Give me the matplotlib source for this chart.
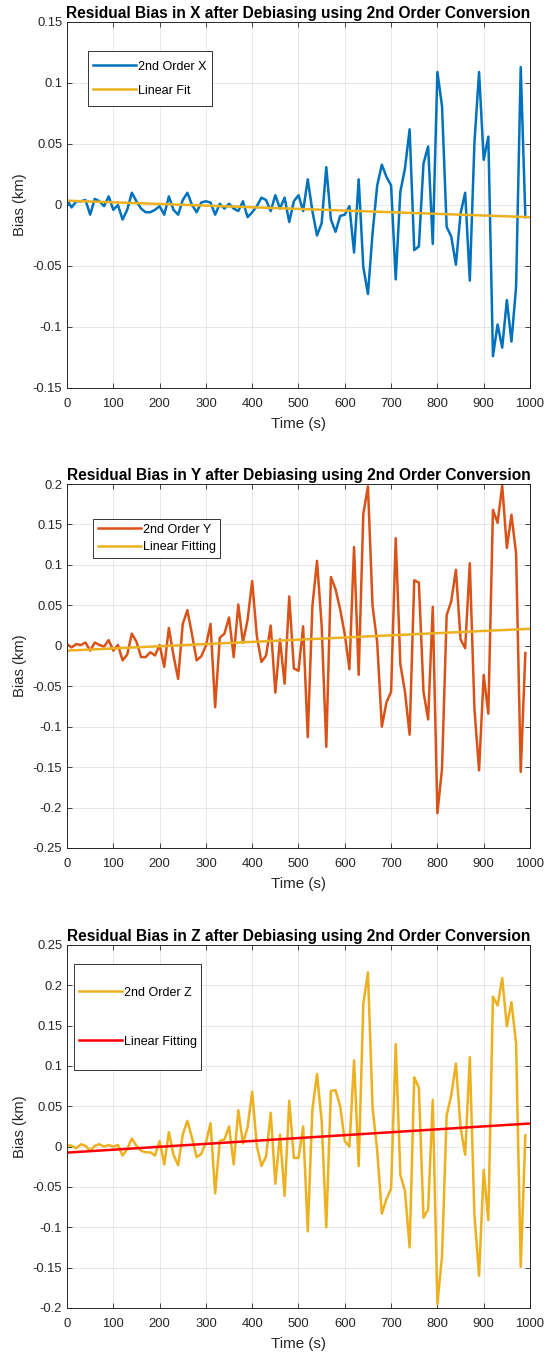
import matplotlib
matplotlib.use("Agg")
import matplotlib.pyplot as plt
from matplotlib.patches import Rectangle
from matplotlib.ticker import FuncFormatter, MultipleLocator

# time axis, one sample every 10 s
t = list(range(0, 1000, 10))

bias_x = [0.004, -0.002, 0.003, 0.003, 0.004, -0.008, 0.005, 0.003, -0.001, 0.007,
          -0.004, 0.000, -0.012, -0.004, 0.010, 0.003, -0.003, -0.006, -0.006, -0.004,
          -0.001, -0.008, 0.007, -0.004, -0.008, 0.004, 0.010, 0.000, -0.006, 0.002,
          0.003, 0.002, -0.008, 0.001, -0.003, 0.001, -0.003, -0.005, 0.003, -0.010,
          -0.006, -0.001, 0.006, 0.004, -0.005, 0.008, -0.003, 0.006, -0.014, 0.003,
          0.008, -0.005, 0.021, -0.005, -0.025, -0.015, 0.031, -0.012, -0.022, -0.009,
          -0.008, -0.001, -0.039, 0.021, -0.051, -0.073, -0.023, 0.016, 0.033, 0.023,
          0.016, -0.061, 0.011, 0.030, 0.062, -0.037, -0.034, 0.034, 0.048, -0.032,
          0.109, 0.081, -0.018, -0.026, -0.049, -0.007, 0.010, -0.062, 0.051, 0.109,
          0.037, 0.056, -0.124, -0.098, -0.117, -0.078, -0.112, -0.067, 0.113, -0.010]

bias_y = [0.002, -0.002, 0.002, 0.001, 0.004, -0.006, 0.004, 0.001, -0.001, 0.007,
          -0.006, 0.001, -0.018, -0.011, 0.015, 0.005, -0.014, -0.014, -0.008, -0.012,
          0.001, -0.026, 0.022, -0.012, -0.041, 0.027, 0.044, 0.014, -0.018, -0.013,
          0.000, 0.027, -0.076, 0.010, 0.015, 0.035, -0.014, 0.051, 0.004, 0.032,
          0.080, 0.012, -0.020, -0.012, 0.025, -0.058, 0.008, -0.047, 0.061, -0.028,
          -0.031, 0.024, -0.113, 0.049, 0.105, 0.025, -0.125, 0.085, 0.070, 0.045,
          0.014, -0.029, 0.122, -0.036, 0.163, 0.197, 0.049, 0.004, -0.100, -0.070,
          -0.057, 0.133, -0.023, -0.057, -0.110, 0.081, 0.078, -0.057, -0.091, 0.048,
          -0.207, -0.152, 0.038, 0.055, 0.094, 0.008, -0.003, 0.102, -0.078, -0.154,
          -0.036, -0.084, 0.168, 0.152, 0.198, 0.121, 0.162, 0.114, -0.156, -0.009]

bias_z = [0.002, 0.001, -0.002, 0.003, 0.001, -0.005, 0.001, 0.003, 0.000, 0.002,
          0.000, 0.002, -0.011, -0.003, 0.010, 0.001, -0.005, -0.007, -0.007, -0.011,
          0.007, -0.022, 0.018, -0.010, -0.023, 0.015, 0.032, 0.011, -0.013, -0.009,
          0.005, 0.029, -0.058, 0.007, 0.009, 0.025, -0.022, 0.045, 0.004, 0.024,
          0.068, 0.001, -0.024, -0.012, 0.042, -0.046, 0.015, -0.061, 0.057, -0.014,
          -0.014, 0.025, -0.105, 0.046, 0.090, 0.032, -0.100, 0.069, 0.070, 0.050,
          0.007, 0.000, 0.107, -0.024, 0.177, 0.216, 0.048, -0.005, -0.083, -0.065,
          -0.052, 0.127, -0.035, -0.055, -0.125, 0.086, 0.073, -0.088, -0.078, 0.058,
          -0.195, -0.136, 0.039, 0.064, 0.103, 0.024, -0.010, 0.111, -0.085, -0.160,
          -0.029, -0.091, 0.186, 0.175, 0.209, 0.149, 0.179, 0.128, -0.149, 0.014]

# linear fit end points (t = 0 and t = 1000)
fit_t = [0, 1000]
fit_x = [0.0035, -0.0100]
fit_y = [-0.0060, 0.0210]
fit_z = [-0.0074, 0.0287]

BLUE = "#0072BD"
ORANGE = "#D95319"
YELLOW = "#EDB120"
RED = "#FF0000"
DARK = "#262626"

plt.rcParams['font.family'] = ['Liberation Sans', 'DejaVu Sans']

fig = plt.figure(figsize=(5.47, 13.55), dpi=100)


def fmt(v, pos):
    s = "%g" % round(v, 4)
    return "0" if s in ("-0", "0") else s


def style_axes(ax, title, ylim, yticks_step):
    ax.set_xlim(0, 1000)
    ax.set_ylim(*ylim)
    ax.xaxis.set_major_locator(MultipleLocator(100))
    ax.yaxis.set_major_locator(MultipleLocator(yticks_step))
    ax.yaxis.set_major_formatter(FuncFormatter(fmt))
    ax.grid(True, color="#e3e3e3", linewidth=0.6)
    ax.set_axisbelow(True)
    ax.tick_params(direction="in", top=True, right=True, labelsize=9.4,
                   colors=DARK, length=3.5, width=0.6)
    ax.tick_params(axis="x", pad=7)
    ax.tick_params(axis="y", pad=3.5)
    for sp in ax.spines.values():
        sp.set_color(DARK)
        sp.set_linewidth(0.7)
    ax.set_title(title, fontsize=11.2, fontweight="bold", pad=3)
    ax.set_xlabel("Time (s)", fontsize=10.9, color=DARK, labelpad=5)
    ax.set_ylabel("Bias (km)", fontsize=10.6, color=DARK, labelpad=4)


def add_legend(ax, anchor, spacing):
    # frame drawn separately so vertical and horizontal padding can differ
    return ax.legend(loc="upper left", bbox_to_anchor=anchor, borderaxespad=0,
                     fontsize=9, frameon=False, handlelength=3.45,
                     handletextpad=0.15, labelspacing=spacing, borderpad=0)


def legend_frame(ax, leg, hpad, vpad):
    bb = leg.get_window_extent()
    inv = ax.transAxes.inverted()
    (x0, y0), (x1, y1) = inv.transform([(bb.x0 - hpad, bb.y0 - vpad),
                                        (bb.x1 + hpad, bb.y1 + vpad)])
    ax.add_patch(Rectangle((x0, y0), x1 - x0, y1 - y0, transform=ax.transAxes,
                           facecolor="white", edgecolor="#333333", lw=0.7,
                           zorder=4.5, clip_on=False))


# ——— X ———
ax1 = fig.add_axes([0.1225, 0.7137, 0.8464, 0.2701])
ax1.plot(t, bias_x, color=BLUE, lw=1.8, label="2nd Order X")
ax1.plot(fit_t, fit_x, color=YELLOW, lw=1.8, label="Linear Fit")
style_axes(ax1, "Residual Bias in X after Debiasing using 2nd Order Conversion",
           (-0.15, 0.15), 0.05)
leg1 = add_legend(ax1, (0.0562, 0.8945), 0.98)

# ——— Y ———
ax2 = fig.add_axes([0.1225, 0.3742, 0.8464, 0.2686])
ax2.plot(t, bias_y, color=ORANGE, lw=1.8, label="2nd Order Y")
ax2.plot(fit_t, fit_y, color=YELLOW, lw=1.8, label="Linear Fitting")
style_axes(ax2, "Residual Bias in Y after Debiasing using 2nd Order Conversion",
           (-0.25, 0.2), 0.05)
leg2 = add_legend(ax2, (0.0659, 0.891), 0.42)

# ——— Z ———
ax3 = fig.add_axes([0.1225, 0.0347, 0.8464, 0.2679])
ax3.plot(t, bias_z, color=YELLOW, lw=1.8, label="2nd Order Z")
ax3.plot(fit_t, fit_z, color=RED, lw=1.8, label="Linear Fitting")
style_axes(ax3, "Residual Bias in Z after Debiasing using 2nd Order Conversion",
           (-0.2, 0.25), 0.05)
leg3 = add_legend(ax3, (0.0259, 0.885), 2.95)

fig.canvas.draw()
legend_frame(ax1, leg1, 5, 9.6)
legend_frame(ax2, leg2, 4.5, 4.6)
legend_frame(ax3, leg3, 4.5, 22.6)

fig.savefig("out.png", dpi=100)
